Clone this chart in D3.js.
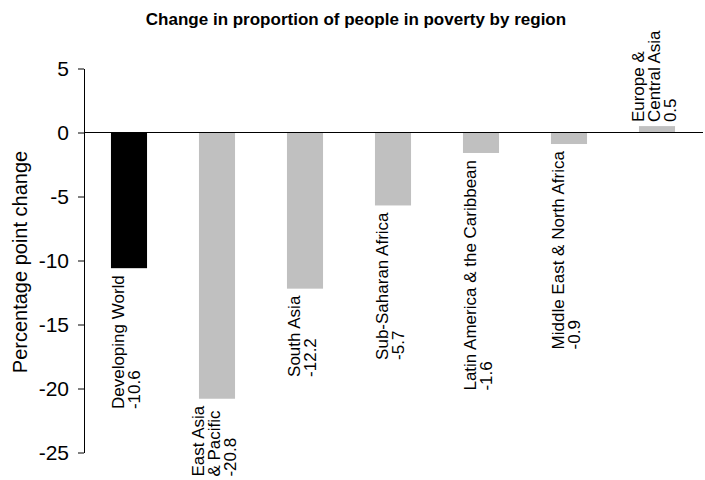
<!DOCTYPE html>
<html>
<head>
<meta charset="utf-8">
<script src="https://cdn.jsdelivr.net/npm/d3@7"></script>
<style>
  html, body { margin: 0; padding: 0; background: #fff; }
  svg { display: block; font-family: "Liberation Sans", Arial, sans-serif; }
</style>
</head>
<body>
<svg id="chart" width="705" height="480"></svg>
<script>
const regions = ["Developing World", "East Asia & Pacific", "South Asia", "Sub-Saharan Africa",
  "Latin America & the Caribbean", "Middle East & North Africa", "Europe & Central Asia"];
const labelLines = [
  ["Developing World"],
  ["East Asia", "& Pacific"],
  ["South Asia"],
  ["Sub-Saharan Africa"],
  ["Latin America & the Caribbean"],
  ["Middle East & North Africa"],
  ["Europe &", "Central Asia"]
];
const values = [-10.6, -20.8, -12.2, -5.7, -1.6, -0.9, 0.5];
const valueLabels = ["-10.6", "-20.8", "-12.2", "-5.7", "-1.6", "-0.9", "0.5"];
const yTicks = [5, 0, -5, -10, -15, -20, -25];
const barColors = ["#000000", "#c0c0c0", "#c0c0c0", "#c0c0c0", "#c0c0c0", "#c0c0c0", "#c0c0c0"];

const svg = d3.select("#chart");
const axisX = 84;

const y = d3.scaleLinear().domain([-25, 5]).range([452.5, 68.5]);
const x = d3.scaleBand().domain(regions).range([85, 701]).paddingInner(0.59).paddingOuter(0.295);

// title
svg.append("text")
  .attr("x", 356).attr("y", 25)
  .attr("text-anchor", "middle")
  .attr("font-weight", "bold")
  .attr("font-size", 17)
  .text("Change in proportion of people in poverty by region");

// bars
svg.append("g").selectAll("rect").data(regions).join("rect")
  .attr("x", d => x(d))
  .attr("width", x.bandwidth())
  .attr("y", (d, i) => Math.min(y(values[i]), y(0)))
  .attr("height", (d, i) => Math.abs(y(values[i]) - y(0)))
  .attr("fill", (d, i) => barColors[i]);

// zero line
svg.append("line")
  .attr("x1", axisX).attr("x2", 703)
  .attr("y1", y(0)).attr("y2", y(0))
  .attr("stroke", "#000").attr("stroke-width", 1);

// y axis
const yAxis = d3.axisLeft(y).tickValues(yTicks).tickSize(6).tickSizeOuter(0).tickPadding(9)
  .tickFormat(d3.format("d"));
const gy = svg.append("g").attr("transform", `translate(${axisX},0)`).call(yAxis);
gy.selectAll("text").attr("font-size", 21).attr("font-family", "Liberation Sans, Arial, sans-serif").attr("fill", "#000");
gy.select(".domain").attr("stroke", "#000");
gy.selectAll(".tick line").attr("stroke", "#000");
gy.selectAll(".tick text").text(d => d < 0 ? "-" + Math.abs(d) : d);

// y title
svg.append("text")
  .attr("transform", "translate(27,262) rotate(-90)")
  .attr("text-anchor", "middle")
  .attr("font-size", 20)
  .text("Percentage point change");

// category labels (rotated)
const fs = 17, lh = 16;
regions.forEach((r, i) => {
  const lines = labelLines[i].concat([valueLabels[i]]);
  const cx = x(r) + x.bandwidth() / 2;
  const v = values[i];
  const g = svg.append("g");
  const t = g.append("text").attr("font-size", fs);
  const n = lines.length;
  lines.forEach((ln, k) => {
    t.append("tspan").attr("x", 0).attr("y", (k - (n - 1) / 2) * lh + 5).text(ln);
  });
  let maxW = 0;
  t.selectAll("tspan").each(function() { maxW = Math.max(maxW, this.getComputedTextLength()); });
  let startY;
  if (v < 0) {
    startY = y(v) + 7 + maxW;
  } else {
    startY = y(v) - 4;
  }
  g.attr("transform", `translate(${cx - 2},${startY}) rotate(-90)`);
});
</script>
</body>
</html>
